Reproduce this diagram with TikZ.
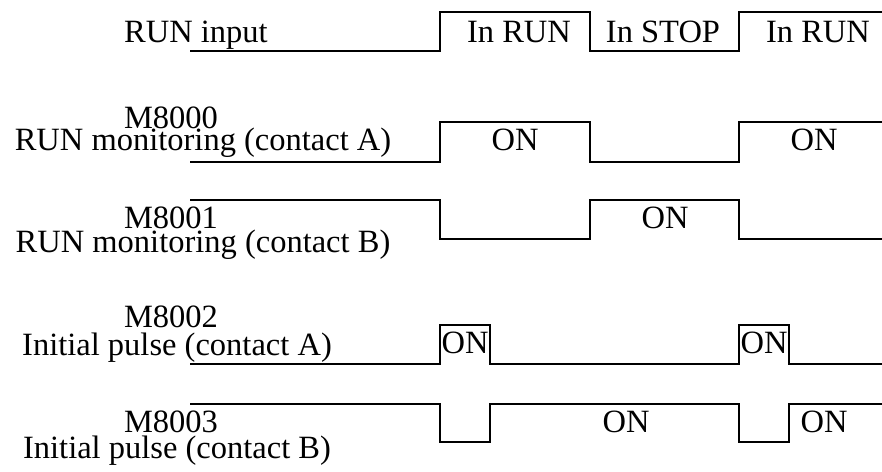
\documentclass[tikz,border=0pt]{standalone}
\usepackage{fontspec}
\setmainfont{Liberation Serif}
\begin{document}
\begin{tikzpicture}[x=1pt,y=-1pt,
  wave/.style={line width=1.8pt,line join=miter},
  lbl/.style={font=\fontsize{32.5}{34}\selectfont,inner sep=0pt,anchor=base},
  st/.style={font=\fontsize{32.5}{34}\selectfont,inner sep=0pt,anchor=center}]
\useasboundingbox (0,0) rectangle (882,471);
% left labels
\node[lbl] (l0) at (196,42) {RUN input};
\node[lbl] (m0) at (171,128) {M8000};
\node[lbl] (l1) at (203,150) {RUN monitoring (contact A)};
\node[lbl] (m1) at (171,228) {M8001};
\node[lbl] (l2) at (203,252) {RUN monitoring (contact B)};
\node[lbl] (m2) at (171,327) {M8002};
\node[lbl] (l3) at (177,355) {Initial pulse (contact A)};
\node[lbl] (m3) at (171,432) {M8003};
\node[lbl] (l4) at (177,458) {Initial pulse (contact B)};
% waveforms
\draw[wave] (190,51) -- (440,51) -- (440,12) -- (590,12) -- (590,51) -- (739,51) -- (739,12) -- (882,12);
\draw[wave] (190,162) -- (440,162) -- (440,122) -- (590,122) -- (590,162) -- (739,162) -- (739,122) -- (882,122);
\draw[wave] (190,200) -- (440,200) -- (440,239) -- (590,239) -- (590,200) -- (739,200) -- (739,239) -- (882,239);
\draw[wave] (190,364) -- (440,364) -- (440,325) -- (490,325) -- (490,364) -- (739,364) -- (739,325) -- (789,325) -- (789,364) -- (882,364);
\draw[wave] (190,404) -- (440,404) -- (440,442) -- (490,442) -- (490,404) -- (739,404) -- (739,442) -- (789,442) -- (789,404) -- (882,404);
% state labels
\node[st] (s1) at (519,32) {In RUN};
\node[st] (s2) at (663,32) {In STOP};
\node[st] (s3) at (818,32) {In RUN};
\node[st] (a1) at (515,140) {ON};
\node[st] (a2) at (814,140) {ON};
\node[st] (b1) at (665,218) {ON};
\node[st] (c1) at (465,343) {ON};
\node[st] (c2) at (764,343) {ON};
\node[st] (d1) at (626,422) {ON};
\node[st] (d2) at (824,422) {ON};
\end{tikzpicture}
\end{document}
